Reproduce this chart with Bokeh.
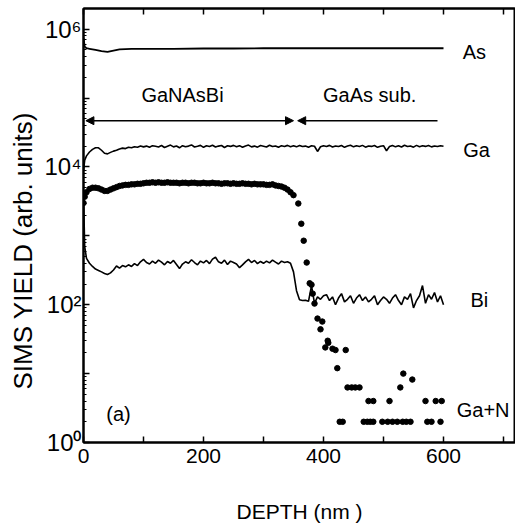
from bokeh.plotting import figure
from bokeh.models import (LinearAxis, FixedTicker, CustomJSTickFormatter,
                          Range1d, Arrow, NormalHead, Label, Title)
from bokeh.embed import file_html
from bokeh.resources import INLINE

FONT = "Liberation Sans"

# ---------------- data ----------------
depth_as = [0, 2, 5, 10, 20, 30, 40, 50, 60, 80, 100, 150, 200, 250, 300, 350, 400, 450, 500, 550, 600]
as_yield = [7.5e5, 5.6e5, 5.3e5, 5.2e5, 5.0e5, 4.8e5, 4.7e5, 4.9e5, 5.1e5, 5.2e5, 5.2e5,
            5.2e5, 5.25e5, 5.25e5, 5.3e5, 5.3e5, 5.3e5, 5.3e5, 5.3e5, 5.3e5, 5.3e5]

depth_line = [0, 2] + list(range(5, 601, 5))

ga_yield = [9000, 12500,
            14500, 16500, 18000, 19000, 19000, 17500, 15800, 15500, 16300, 17000,
            17500, 18300, 18800, 18500, 19300, 19000, 19700, 19400, 20200, 19600,
            20100, 19300, 20400, 20000, 19500, 20500, 19200, 20000, 20800, 19600,
            20200, 19000, 20400, 19700, 20100, 20900, 19500, 20000, 20600, 19300,
            20300, 19800, 20700, 19500, 20100, 20500, 19200, 20300, 19900, 20600,
            19700, 20400, 19300, 20200, 20800, 19600, 20100, 19400, 20500, 20000,
            19500, 20700, 19800, 20200, 19300, 20400, 19900, 20600, 19700, 20300,
            19600, 20500, 19800, 20100, 19400, 20300, 20000, 16800, 19700, 20400,
            19900, 20600, 19500, 20200, 19800, 20500, 19300, 20100, 20700, 19600,
            20300, 19800, 20600, 19400, 20200, 19900, 20500, 19300, 20000, 20400,
            17200, 19800, 20500, 19600, 20300, 19500, 20700, 19800, 20200, 19400,
            20600, 19700, 20300, 19900, 20500, 19600, 20200, 19800, 20400, 20000]

bi_yield = [4000, 700,
            470, 400, 360, 330, 315, 300, 285, 275, 290, 320,
            365, 340, 370, 355, 380, 360, 395, 370, 420, 455,
            410, 390, 430, 400, 445, 415, 380, 425, 400, 440,
            385, 335, 390, 420, 400, 450, 410, 380, 430, 405,
            440, 395, 460, 490, 420, 400, 445, 385, 430, 410,
            390, 345, 380, 420, 455, 410, 440, 395, 425, 400,
            430, 405, 445, 415, 390, 430, 410, 420, 400, 300,
            160, 118, 115, 116, 112, 190, 105, 130, 120, 135,
            140, 115, 130, 100, 125, 145, 110, 120, 135, 105,
            125, 140, 115, 130, 110, 120, 135, 100, 115, 130,
            120, 105, 125, 140, 115, 100, 130, 120, 145, 90,
            115, 135, 190, 105, 140, 120, 150, 110, 135, 100]

depth_gan = [0, 2,
             5, 10, 15, 20, 25, 30, 35, 40, 45, 50,
             55, 60, 65, 70, 75, 80, 85, 90, 95, 100,
             105, 110, 115, 120, 125, 130, 135, 140, 145, 150,
             155, 160, 165, 170, 175, 180, 185, 190, 195, 200,
             205, 210, 215, 220, 225, 230, 235, 240, 245, 250,
             255, 260, 265, 270, 275, 280, 285, 290, 295, 300,
             305, 310, 315, 320, 325, 330, 335, 340, 345, 350,
             358, 363, 367, 372, 377, 380, 382, 385, 390, 395, 398,
             403, 407, 408, 415, 420, 423, 437,
             440, 447, 453, 460,
             427, 432, 467, 473, 478, 483, 498, 507, 515, 523,
             475, 483, 510, 528, 533, 548,
             532, 538, 545, 570, 587, 597, 573, 580, 595]
gan_yield = [3000, 3700,
             4300, 4800, 5000, 5000, 4900, 4700, 4500, 4500, 4700, 4900,
             5100, 5300, 5400, 5500, 5500, 5600, 5600, 5700, 5700, 5800,
             5900, 5900, 6000, 5900, 6000, 5900, 5900, 6000, 5900, 5900,
             5900, 5800, 5900, 5900, 5800, 5900, 5900, 5800, 5800, 5900,
             5800, 5800, 5900, 5800, 5800, 5700, 5800, 5800, 5700, 5800,
             5700, 5700, 5800, 5700, 5700, 5600, 5700, 5600, 5600, 5600,
             5500, 5500, 5600, 5400, 5300, 5200, 5000, 4700, 4300, 3900,
             2950, 1500, 850, 410, 205, 195, 145, 104, 63, 44, 57,
             24, 30, 28, 23, 22, 12, 22,
             6.3, 6.3, 6.3, 6.3,
             2, 2, 2, 2, 2, 2, 2, 2, 2, 2,
             4, 4, 4, 6.3, 10, 8.2,
             2, 2, 2, 4, 4, 4, 2, 2, 2]

x_ticks = [0, 100, 200, 300, 400, 500, 600, 700]
y_ticks = [1, 10, 100, 1e3, 1e4, 1e5, 1e6]
y_minor = [k * 10 ** e for e in range(0, 7) for k in range(2, 10)]

# ---------------- figure ----------------
p = figure(width=515, height=526, x_range=Range1d(0, 720), y_range=Range1d(1, 2e6),
           y_axis_type="log", output_backend="svg", toolbar_location=None,
           min_border_left=83, min_border_right=0, min_border_top=8, min_border_bottom=84)
p.xgrid.visible = False
p.ygrid.visible = False
p.outline_line_color = "black"
p.outline_line_width = 2
p.background_fill_color = "white"
p.border_fill_color = "white"

xfmt = CustomJSTickFormatter(code="return (Math.round(tick) % 200 == 0) ? Math.round(tick).toString() : '';")
yfmt = CustomJSTickFormatter(code="""
const e = Math.round(Math.log10(tick));
const sup = {0: '\\u2070', 2: '\\u00b2', 4: '\\u2074', 6: '\\u2076'};
return (e % 2 == 0) ? '10' + sup[e] : '';
""")
blank = CustomJSTickFormatter(code="return '';")


def style(ax):
    ax.axis_line_width = 2
    ax.axis_line_color = "black"
    ax.major_tick_in = 6
    ax.major_tick_out = 0
    ax.minor_tick_in = 3
    ax.minor_tick_out = 0
    ax.major_tick_line_width = 1.5
    ax.minor_tick_line_width = 1
    ax.major_tick_line_color = "black"
    ax.minor_tick_line_color = "black"
    ax.major_label_text_color = "black"
    ax.axis_label_text_color = "black"


xa = p.xaxis[0]
xa.ticker = FixedTicker(ticks=x_ticks, minor_ticks=[])
xa.formatter = xfmt
style(xa)
xa.major_label_text_font = FONT
xa.major_label_text_font_size = "21px"
xa.major_label_standoff = 6
xa.axis_label = "DEPTH (nm )"
xa.axis_label_text_font = FONT
xa.axis_label_text_font_size = "21px"
xa.axis_label_text_font_style = "normal"
xa.axis_label_standoff = 34

ya = p.yaxis[0]
ya.ticker = FixedTicker(ticks=y_ticks, minor_ticks=y_minor)
ya.formatter = yfmt
style(ya)
ya.major_label_text_font = FONT
ya.major_label_text_font_size = "24px"
ya.major_label_standoff = 2

top = LinearAxis(ticker=FixedTicker(ticks=x_ticks, minor_ticks=[]), formatter=blank)
style(top)
top.major_label_text_font_size = "0px"
top.major_label_standoff = 0
p.add_layout(top, "above")

# y-axis title placed like the reference (slightly below the frame centre)
p.add_layout(Title(text="SIMS YIELD (arb. units)", align="left", offset=53,
                   text_font=FONT, text_font_size="26px", text_font_style="normal",
                   text_color="black", standoff=8), "left")

# ---------------- data marks ----------------
p.line(depth_as, as_yield, line_color="black", line_width=1.8)
p.line(depth_line, ga_yield, line_color="black", line_width=1.6)
p.line(depth_line, bi_yield, line_color="black", line_width=1.6)
p.scatter(depth_gan, gan_yield, size=5.5, fill_color="black", line_color="black")

# ---------------- annotations ----------------
head = dict(size=8, fill_color="black", line_color="black", line_width=1)
p.add_layout(Arrow(start=NormalHead(**head), end=NormalHead(**head),
                   x_start=4, y_start=4.7e4, x_end=350, y_end=4.7e4,
                   line_color="black", line_width=1.5))
p.add_layout(Arrow(start=None, end=NormalHead(**head),
                   x_start=590, y_start=4.7e4, x_end=357, y_end=4.7e4,
                   line_color="black", line_width=1.5))

labels = [
    ("GaNAsBi", 165, 10 ** 5.038, "center"),
    ("GaAs sub.", 477, 10 ** 5.038, "center"),
    ("As", 632, 10 ** 5.669, "left"),
    ("Ga", 633, 10 ** 4.247, "left"),
    ("Bi", 645, 10 ** 2.076, "left"),
    ("Ga+N", 622, 10 ** 0.472, "left"),
    ("(a)", 38, 10 ** 0.414, "left"),
]
for txt, x, y, al in labels:
    p.add_layout(Label(x=x, y=y, text=txt, text_align=al, text_baseline="middle",
                       text_font=FONT, text_font_size="20px", text_color="black"))

open("out.html", "w").write(file_html(p, INLINE))
